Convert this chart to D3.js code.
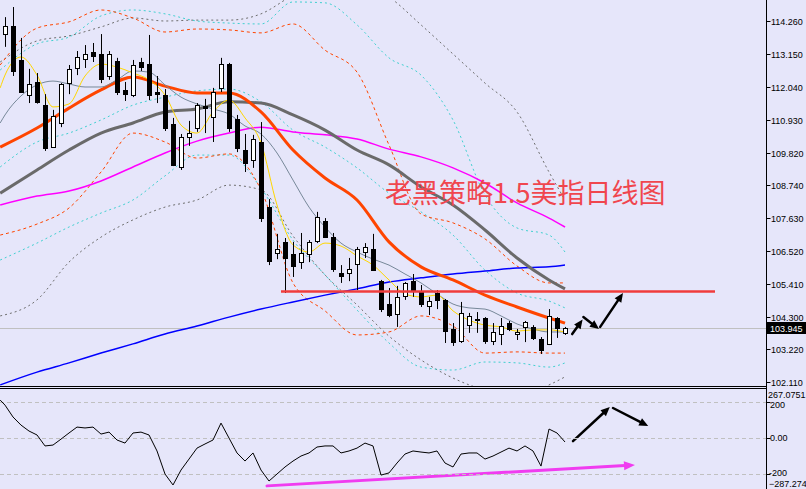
<!DOCTYPE html>
<html><head><meta charset="utf-8">
<script src="https://cdn.jsdelivr.net/npm/d3@7"></script>
<style>
html,body{margin:0;padding:0;background:#e6e6fa;}
svg{display:block;}
</style></head><body>
<svg id="chart" width="806" height="489"></svg>
<script>
// ---------------- DATA ----------------
const openP = [113.82,114.09,112.95,111.77,112.21,111.43,110.02,110.83,112.17,112.68,
112.98,113.22,113.15,112.41,112.91,111.94,111.77,112.88,112.81,111.87,
111.77,110.80,109.35,110.36,110.66,111.40,111.03,112.01,112.81,110.96,
109.92,109.58,110.19,108.00,106.46,106.83,106.42,106.15,106.42,106.86,
107.53,106.99,105.78,105.78,106.09,106.49,106.59,105.51,104.74,104.40,
105.01,105.51,105.14,104.67,105.11,104.88,103.90,103.50,104.03,104.22,
104.27,103.50,103.73,104.10,103.73,103.97,103.97,103.56,103.40,104.27,103.77];
const closeP = [114.09,112.58,111.87,112.14,111.52,109.99,111.06,112.14,112.65,113.05,
113.15,113.08,112.31,113.15,111.87,111.80,112.78,112.71,111.77,111.80,
110.66,109.42,110.36,110.49,111.43,111.33,111.87,112.81,110.66,109.99,
109.48,110.29,107.63,106.19,106.59,106.29,106.02,106.46,106.83,107.67,
106.99,105.92,105.68,105.92,106.59,106.66,105.88,104.57,104.37,104.98,
105.45,105.18,104.74,104.84,104.88,103.83,103.46,104.44,104.34,104.20,
103.50,103.80,104.00,103.90,103.80,104.14,103.60,103.19,104.34,103.93,103.945];
const highP = [114.39,114.73,113.69,112.65,112.51,111.80,111.27,112.17,112.78,113.25,
113.45,113.52,113.82,113.25,113.02,112.21,112.95,113.02,113.79,112.41,
111.97,111.00,110.46,110.90,111.50,111.64,112.01,113.02,112.85,111.10,
110.46,110.43,110.86,108.27,107.10,106.96,106.83,107.13,106.89,107.84,
107.63,107.13,106.05,106.29,106.66,106.79,107.10,105.55,105.28,105.35,
105.48,105.75,105.38,104.98,105.21,104.91,104.10,104.81,104.44,104.47,
104.30,104.10,104.27,104.17,103.90,104.17,104.03,103.63,104.57,104.30,103.97];
const lowP = [113.39,112.41,111.84,111.50,111.48,109.89,109.99,110.69,111.80,112.44,
112.68,112.88,112.17,112.28,111.77,111.57,111.70,112.58,111.60,111.50,
110.56,109.38,109.25,110.06,110.53,110.49,110.19,111.87,110.53,109.85,
109.18,109.32,107.50,106.05,106.25,105.11,105.65,105.92,106.15,106.79,
106.96,105.82,105.45,105.51,105.21,106.29,105.85,104.47,104.30,103.97,
104.88,104.98,104.64,104.37,104.57,103.43,103.33,103.43,103.77,103.77,
103.40,103.36,103.36,103.83,103.53,103.46,103.53,103.06,103.36,103.60,103.70];

// sample positions (bar index) for indicator lines
const fineIdx = [-0.6,0,2,4,6,8,10,12,14,16,18,20,22,24,26,28,30,32,34,36,38,40,42,44,46,48,50,52,54,56,58,60,62,64,66,68,70];
const slowIdx = [-0.6,4,8,12,16,20,24,28,32,36,40,44,48,52,56,60,64,68,70];

const maFast = [112.01,112.44,113.05,112.44,111.37,111.47,112.41,112.81,112.71,112.51,112.28,111.77,110.76,110.49,111.20,111.60,111.00,110.16,108.07,106.73,106.49,106.79,106.69,106.36,106.05,105.55,105.08,104.98,105.04,104.51,104.20,104.03,103.97,103.83,103.87,103.87,103.80];
const maTen = [110.83,111.10,111.74,112.11,112.24,112.14,112.04,112.04,112.28,112.58,112.54,112.11,111.70,111.47,111.30,111.13,110.73,110.46,109.82,108.91,108.00,107.33,106.79,106.49,106.25,106.05,105.75,105.45,105.08,104.74,104.61,104.57,104.34,104.07,103.90,103.80,103.80];
const maOrange = [110.02,110.66,111.33,111.94,112.38,112.07,111.84,111.84,111.20,109.92,108.98,108.24,106.83,105.99,105.55,105.04,104.64,104.27,104.10];
const maGray = [108.47,109.25,109.92,110.49,110.83,111.20,111.30,111.54,111.50,111.10,110.59,109.92,109.42,108.68,108.07,107.23,106.29,105.55,105.25];
const maMagenta = [108.07,108.37,108.54,108.88,109.35,109.82,110.22,110.49,110.69,110.53,110.43,110.29,109.95,109.69,109.32,108.81,108.14,107.63,107.33];
const maBlue = [102.02,102.45,102.76,103.09,103.40,103.73,104.00,104.30,104.57,104.81,105.04,105.25,105.48,105.62,105.75,105.85,105.95,105.99,106.05];
const orangeUp = [112.78,114.02,114.23,114.63,114.36,113.89,113.99,113.96,113.86,114.16,113.28,112.54,110.09,107.77,107.47,106.93,106.02,105.45,105.45];
const orangeLo = [107.06,107.43,107.97,109.18,110.49,110.19,109.65,109.79,108.58,105.45,104.51,103.70,103.80,104.34,104.00,103.09,103.13,103.09,103.09];
const grayUp = [112.88,113.59,113.76,114.06,114.36,114.26,114.29,114.29,114.50,115.13,115.64,115.64,115.07,114.13,113.15,112.17,111.20,109.18,108.24];
const grayLo = [104.34,104.88,106.15,106.99,107.57,108.00,108.24,108.74,108.58,107.03,105.72,104.71,103.66,102.86,102.25,101.85,101.68,102.02,102.29];
const cyanUp = [112.61,113.49,113.72,114.43,114.63,114.50,114.26,114.19,114.16,114.90,114.87,114.13,113.02,112.44,110.93,108.41,107.30,107.06,106.49];
const cyanMid = [109.35,110.19,110.49,110.93,111.43,111.70,111.91,111.97,111.54,110.59,110.02,109.32,108.47,107.84,107.06,105.88,105.11,104.84,104.61];
const cyanLo = [106.22,106.79,107.33,107.80,108.24,109.05,109.75,109.75,108.64,106.89,105.72,104.54,103.43,102.62,102.52,102.79,102.76,102.62,102.76];

const cciStart = 211;
const cci = [183,117,72,39,17,-44,-39,-6,28,61,
56,61,22,33,-11,-28,28,33,17,-72,
-200,-261,-178,-117,-56,-33,-11,83,0,-83,
-128,-83,-178,-239,-200,-161,-128,-100,-83,-50,
-44,-44,-83,-72,-56,-28,-44,-206,-194,-139,
-89,-72,-78,-83,-72,-139,-161,-89,-83,-83,
-117,-100,-78,-56,-72,-44,-72,-156,50,28,-22];

const priceTicks = [114.26,113.15,112.04,110.93,109.82,108.74,107.63,106.52,105.41,104.30,103.22,102.11];
const cciLevels = [200,0,-200];
const cciMax = 267.0751, cciMin = -287.274;
const lastPrice = 103.945;
const resistance = {price:105.16, from:34.5, to:88.75};
const mainArrows = [
  {from:[70.9,103.73], to:[72.2,104.22]},
  {from:[72.3,104.30], to:[74.25,103.90]},
  {from:[74.4,103.97], to:[77.25,105.11]}];
const subArrows = [
  {from:[71,-17], to:[75.6,172]},
  {from:[76,167], to:[80.4,67]}];
const subTrend = {from:[32.75,-266], to:[78.75,-150]};
const title = "老黑策略1.5美指日线图";

// ---------------- DRAW ----------------
const W=806, H=489, AX=766.5, MAINB=386;
const svg = d3.select('#chart');
svg.append('rect').attr('width',W).attr('height',H).attr('fill','#e6e6fa');
const defs = svg.append('defs');
defs.append('clipPath').attr('id','cm').append('rect').attr('x',0).attr('y',0).attr('width',766).attr('height',MAINB);
defs.append('clipPath').attr('id','cs').append('rect').attr('x',0).attr('y',390).attr('width',766).attr('height',99);

const x = d3.scaleLinear().domain([0,70]).range([5,565]);
const y = d3.scaleLinear().domain([101.983,114.966]).range([MAINB,0]);
const yc = d3.scaleLinear().domain([cciMin,cciMax]).range([489.7,390]);

const main = svg.append('g').attr('clip-path','url(#cm)');
main.append('line').attr('x1',0).attr('x2',AX).attr('y1',Math.round(y(lastPrice))+0.5).attr('y2',Math.round(y(lastPrice))+0.5)
  .attr('stroke','#c0c0c0').attr('stroke-width',1);

function drawLine(g, idx, vals, color, width, dash, ys, curve){
  const sc = ys || y;
  const line = d3.line().x((d,i)=>x(idx[i])).y(d=>sc(d)).curve(curve || d3.curveMonotoneX);
  g.append('path').attr('d', line(vals)).attr('fill','none').attr('stroke',color)
   .attr('stroke-width',width).attr('stroke-dasharray',dash||null).attr('stroke-linejoin','round');
}
drawLine(main, slowIdx, grayUp, '#6e6e6e', 1, '2,3');
drawLine(main, slowIdx, grayLo, '#6e6e6e', 1, '2,3');
drawLine(main, slowIdx, cyanUp, '#40d0d0', 1, '2,3');
drawLine(main, slowIdx, cyanMid, '#40d0d0', 1, '2,3');
drawLine(main, slowIdx, cyanLo, '#40d0d0', 1, '2,3');
drawLine(main, slowIdx, orangeUp, '#ff4500', 1, '3,3');
drawLine(main, slowIdx, orangeLo, '#ff4500', 1, '3,3');
drawLine(main, slowIdx, maBlue, '#0000ff', 1.5);
drawLine(main, slowIdx, maMagenta, '#ff00ff', 1.5);
drawLine(main, slowIdx, maGray, '#6a6a6a', 3);
drawLine(main, slowIdx, maOrange, '#ff4500', 3);
drawLine(main, fineIdx, maTen, '#778899', 1);
drawLine(main, fineIdx, maFast, '#ffd700', 1);

// candles
const bars = d3.range(openP.length).map(i=>({i,o:openP[i],h:highP[i],l:lowP[i],c:closeP[i]}));
const cg = main.append('g');
cg.selectAll('line').data(bars).join('line')
  .attr('x1',d=>Math.round(x(d.i))+0.5).attr('x2',d=>Math.round(x(d.i))+0.5)
  .attr('y1',d=>y(d.h)).attr('y2',d=>y(d.l)).attr('stroke','#000').attr('stroke-width',1);
cg.selectAll('rect').data(bars).join('rect')
  .attr('x',d=>Math.round(x(d.i))-2+0.5)
  .attr('y',d=>Math.round(y(Math.max(d.o,d.c)))+0.5)
  .attr('width',4)
  .attr('height',d=>Math.max(1,Math.round(y(Math.min(d.o,d.c)))-Math.round(y(Math.max(d.o,d.c)))))
  .attr('fill',d=>d.c>=d.o?'#ffffff':'#000000').attr('stroke','#000').attr('stroke-width',1);

// title text
svg.append('text').attr('x',385).attr('y',203).text(title)
  .attr('font-family','"Noto Sans CJK SC", sans-serif').attr('font-size',27).attr('fill','#f0464e');

// resistance line
main.append('line').attr('x1',x(resistance.from)).attr('x2',x(resistance.to))
  .attr('y1',y(resistance.price)).attr('y2',y(resistance.price)).attr('stroke','#f03c3c').attr('stroke-width',2.5);

function arrow(g, p0, p1, color, width, headL, headW){
  const dx=p1[0]-p0[0], dy=p1[1]-p0[1], L=Math.hypot(dx,dy), ux=dx/L, uy=dy/L;
  const bx=p1[0]-ux*headL, by=p1[1]-uy*headL;
  g.append('line').attr('x1',p0[0]).attr('y1',p0[1]).attr('x2',bx+ux*1).attr('y2',by+uy*1)
    .attr('stroke',color).attr('stroke-width',width).attr('stroke-linecap','round');
  g.append('path').attr('d',`M${p1[0]},${p1[1]}L${bx-uy*headW/2},${by+ux*headW/2}L${bx+uy*headW/2},${by-ux*headW/2}Z`).attr('fill',color);
}
const ag = svg.append('g');
mainArrows.forEach(a=>arrow(ag,[x(a.from[0]),y(a.from[1])],[x(a.to[0]),y(a.to[1])],'#000',2.5,9,8));

// sub panel
const sub = svg.append('g').attr('clip-path','url(#cs)');
cciLevels.forEach(v=>{
  sub.append('line').attr('x1',0).attr('x2',AX).attr('y1',Math.round(yc(v))+0.5).attr('y2',Math.round(yc(v))+0.5)
   .attr('stroke','#c0c0c0').attr('stroke-dasharray','4,3');
});
const cciIdx = [-0.6].concat(d3.range(cci.length));
drawLine(sub, cciIdx, [cciStart].concat(cci), '#000', 1, null, yc, d3.curveLinear);
arrow(ag,[x(subTrend.from[0]),yc(subTrend.from[1])],[x(subTrend.to[0]),yc(subTrend.to[1])],'#f03cf0',3,11,9);
subArrows.forEach(a=>arrow(ag,[x(a.from[0]),yc(a.from[1])],[x(a.to[0]),yc(a.to[1])],'#000',2.5,9,8));

// separators and axis line
svg.append('line').attr('x1',0).attr('x2',AX).attr('y1',386.5).attr('y2',386.5).attr('stroke','#000');
svg.append('line').attr('x1',0).attr('x2',AX).attr('y1',388.5).attr('y2',388.5).attr('stroke','#000');
svg.append('line').attr('x1',AX).attr('x2',AX).attr('y1',0).attr('y2',H).attr('stroke','#000');

// price axis
const axG = svg.append('g').attr('font-family','"Liberation Sans", Arial, sans-serif').attr('font-size',9);
priceTicks.forEach(v=>{
  const yy=Math.round(y(v))+0.5;
  axG.append('line').attr('x1',AX).attr('x2',AX+4).attr('y1',yy).attr('y2',yy).attr('stroke','#000');
  axG.append('text').attr('x',771).attr('y',yy+3.5).text(d3.format('.3f')(v));
});
const ly = Math.round(y(lastPrice));
axG.append('rect').attr('x',767).attr('y',ly-6).attr('width',39).attr('height',12).attr('fill','#000');
axG.append('text').attr('x',770).attr('y',ly+3.5).text(d3.format('.3f')(lastPrice)).attr('fill','#fff');

// cci axis labels
const subLabels = [[cciMax, yc(cciMax)+4.5, d3.format('.4f')(cciMax), 768],[200,yc(200)+3,'200',770],[0,yc(0),'0.00',770],[-200,yc(-200)-1,'-200',769],[cciMin,yc(cciMin)-5.5,d3.format('.3f')(cciMin),769]];
subLabels.forEach(s=>{
  if(cciLevels.includes(s[0])) axG.append('line').attr('x1',AX).attr('x2',AX+4).attr('y1',Math.round(yc(s[0]))+0.5).attr('y2',Math.round(yc(s[0]))+0.5).attr('stroke','#000');
  axG.append('text').attr('x',s[3]).attr('y',s[1]+3.2).text(s[2]);
});
</script>
</body></html>
